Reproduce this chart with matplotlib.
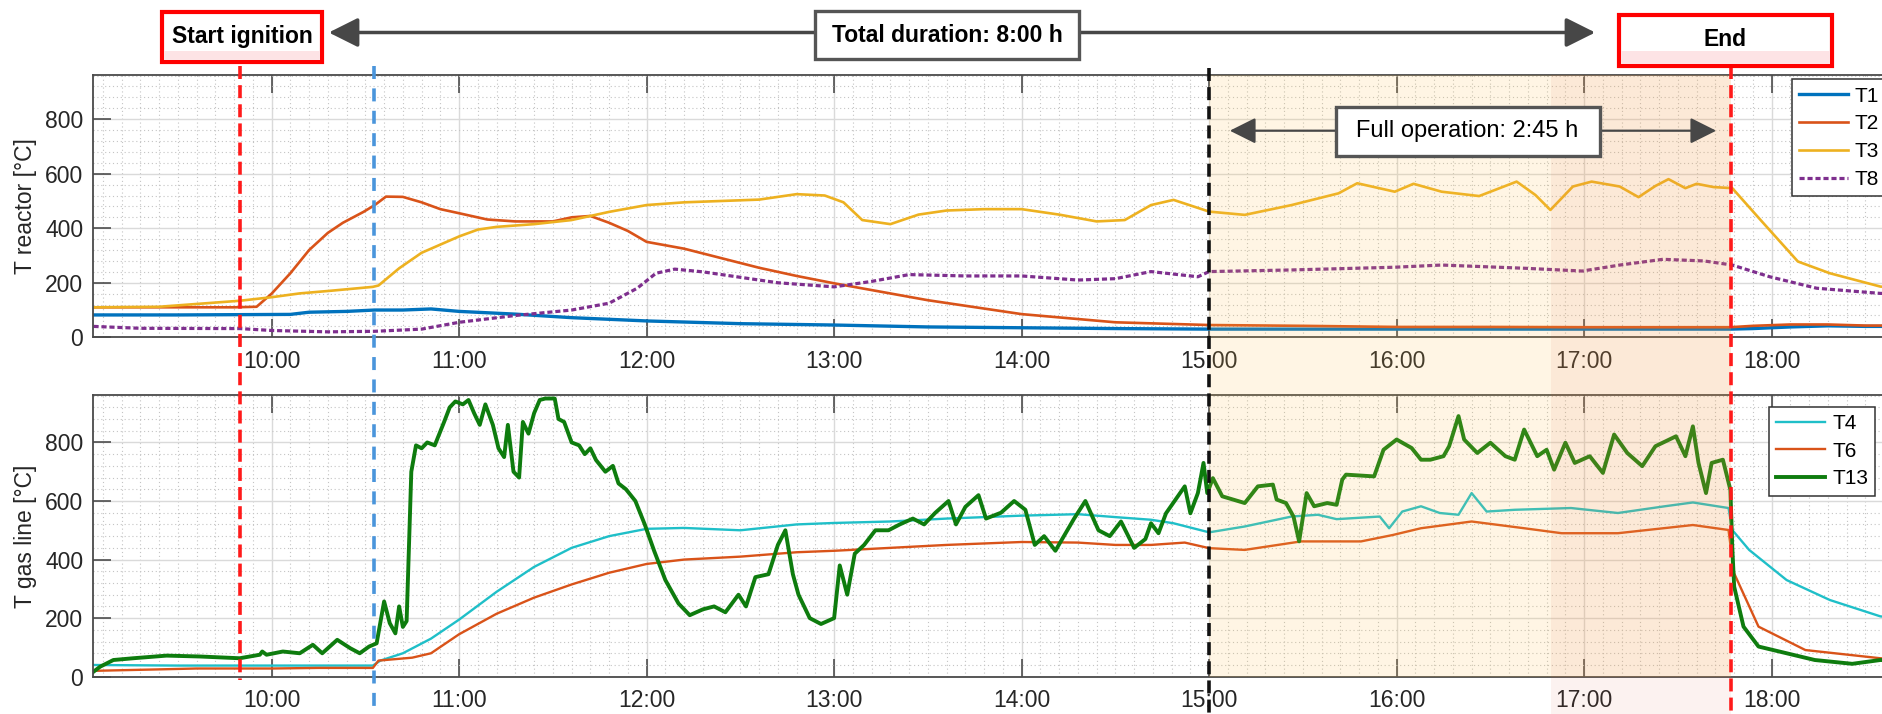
import matplotlib
matplotlib.use("Agg")
import matplotlib.pyplot as plt
from matplotlib.patches import Rectangle, FancyArrowPatch
from matplotlib.lines import Line2D
from matplotlib.ticker import MultipleLocator, FixedLocator
from matplotlib import transforms as mtrans

plt.rcParams["font.family"] = ["Liberation Sans", "DejaVu Sans"]

# ---- time markers (hours of day) ----
t_ignition = 9.834
t_switch = 10.544
t_full_start = 15.0
t_late_start = 16.825
t_end = 17.785

hour_ticks = [10, 11, 12, 13, 14, 15, 16, 17, 18]
hour_labels = ["10:00", "11:00", "12:00", "13:00", "14:00", "15:00", "16:00", "17:00", "18:00"]
temp_ticks = [0, 200, 400, 600, 800]

# ---- reactor temperatures ----
t_T1 = [9.05, 9.5, 10.1, 10.2, 10.4, 10.55, 10.7, 10.85, 11.0, 11.3, 11.6, 12.0, 12.5, 13.0,
        13.5, 14.0, 14.5, 15.0, 16.0, 17.0, 17.78, 17.9, 18.1, 18.3, 18.5, 18.69]
T1 = [82, 82, 84, 92, 95, 100, 100, 104, 95, 85, 72, 60, 50, 45, 38, 35, 32, 30, 30, 30, 30,
      32, 38, 42, 40, 40]

t_T2 = [9.05, 9.8, 9.92, 10.0, 10.1, 10.2, 10.3, 10.38, 10.49, 10.55, 10.61, 10.7, 10.8, 10.9,
        11.0, 11.15, 11.3, 11.5, 11.6, 11.7, 11.8, 11.9, 12.0, 12.2, 12.4, 12.6, 12.8, 13.0,
        13.5, 14.0, 14.5, 15.0, 15.5, 16.0, 16.5, 17.0, 17.5, 17.78, 17.9, 18.1, 18.3, 18.5, 18.69]
T2 = [110, 110, 112, 160, 235, 320, 383, 420, 460, 485, 516, 515, 495, 470, 455, 432, 425, 425,
      440, 445, 420, 390, 350, 325, 290, 255, 225, 198, 136, 85, 55, 45, 42, 38, 38, 37, 37, 37,
      42, 47, 47, 43, 43]

t_T3 = [9.05, 9.4, 9.83, 10.0, 10.15, 10.32, 10.54, 10.57, 10.68, 10.8, 10.9, 11.0, 11.1, 11.2,
        11.4, 11.6, 11.8, 12.0, 12.2, 12.4, 12.6, 12.8, 12.95, 13.05, 13.15, 13.3, 13.45, 13.6,
        13.8, 14.0, 14.2, 14.4, 14.55, 14.69, 14.81, 15.0, 15.19, 15.44, 15.69, 15.79, 15.99,
        16.09, 16.24, 16.44, 16.64, 16.74, 16.82, 16.94, 17.04, 17.19, 17.29, 17.38, 17.45,
        17.54, 17.6, 17.69, 17.79, 17.94, 18.14, 18.31, 18.58, 18.69]
T3 = [110, 112, 134, 147, 161, 171, 185, 190, 253, 310, 340, 370, 395, 405, 415, 430, 460, 485,
      495, 500, 505, 525, 520, 495, 430, 415, 450, 465, 470, 470, 450, 425, 430, 485, 504, 461,
      449, 485, 528, 565, 534, 563, 534, 518, 571, 522, 467, 553, 571, 553, 514, 555, 580, 547,
      563, 551, 547, 431, 278, 235, 186, 180]

t_T8 = [9.05, 9.3, 9.83, 10.0, 10.3, 10.55, 10.8, 11.0, 11.3, 11.6, 11.8, 11.95, 12.05, 12.15,
        12.3, 12.5, 12.7, 13.0, 13.2, 13.4, 13.7, 14.0, 14.3, 14.5, 14.69, 14.94, 15.0, 15.44,
        15.99, 16.24, 16.69, 16.99, 17.19, 17.42, 17.64, 17.79, 17.99, 18.24, 18.58, 18.69]
T8 = [40, 33, 32, 25, 20, 22, 30, 55, 80, 100, 125, 180, 235, 250, 240, 220, 200, 185, 205, 230,
      225, 225, 210, 215, 241, 222, 241, 247, 257, 265, 253, 243, 265, 286, 280, 265, 222, 180,
      161, 160]

# ---- gas line temperatures ----
t_T4 = [9.05, 9.5, 10.0, 10.54, 10.58, 10.7, 10.85, 11.0, 11.2, 11.4, 11.6, 11.8, 12.0, 12.2,
        12.5, 12.8, 13.0, 13.3, 13.6, 14.0, 14.3, 14.5, 14.69, 14.81, 15.0, 15.19, 15.44, 15.58,
        15.68, 15.91, 15.96, 16.03, 16.13, 16.23, 16.33, 16.4, 16.48, 16.63, 16.93, 17.18,
        17.43, 17.58, 17.77, 17.79, 17.88, 18.08, 18.31, 18.58, 18.69]
T4 = [40, 38, 38, 38, 55, 80, 130, 195, 290, 375, 440, 480, 505, 508, 500, 520, 525, 530, 540,
      550, 555, 545, 536, 524, 493, 513, 547, 553, 538, 547, 507, 564, 582, 559, 553, 627, 564,
      570, 576, 559, 582, 595, 576, 501, 433, 330, 262, 206, 200]

t_T6 = [9.05, 9.4, 9.6, 10.0, 10.25, 10.54, 10.57, 10.75, 10.85, 11.0, 11.2, 11.4, 11.6, 11.8,
        12.0, 12.2, 12.5, 12.8, 13.0, 13.3, 13.6, 14.0, 14.3, 14.5, 14.69, 14.87, 15.0, 15.19,
        15.49, 15.81, 15.98, 16.13, 16.4, 16.68, 16.88, 17.18, 17.58, 17.77, 17.8, 17.93,
        18.18, 18.58, 18.69]
T6 = [20, 25, 28, 28, 30, 30, 55, 65, 80, 145, 215, 270, 315, 355, 385, 400, 410, 425, 430, 440,
      450, 460, 458, 450, 450, 458, 439, 433, 462, 462, 484, 507, 530, 507, 490, 490, 518, 501,
      353, 171, 91, 63, 60]

t_T13 = [9.05, 9.085, 9.156, 9.262, 9.44, 9.617, 9.83, 9.937, 9.95, 9.973, 10.06, 10.15, 10.22,
         10.27, 10.35, 10.42, 10.47, 10.52, 10.56, 10.6, 10.63, 10.66, 10.68, 10.7, 10.72,
         10.745, 10.77, 10.8, 10.83, 10.87, 10.92, 10.95, 10.98, 11.02, 11.05, 11.08, 11.11,
         11.14, 11.18, 11.21, 11.24, 11.26, 11.29, 11.32, 11.34, 11.37, 11.4, 11.43, 11.46,
         11.51, 11.53, 11.56, 11.6, 11.64, 11.67, 11.7, 11.73, 11.78, 11.82, 11.85, 11.89,
         11.94, 11.99, 12.04,
         12.1, 12.17, 12.23, 12.3, 12.36, 12.42, 12.49, 12.53, 12.58, 12.65, 12.7, 12.74,
         12.78, 12.81, 12.87, 12.93, 13.0, 13.03, 13.07, 13.11, 13.16, 13.22, 13.29, 13.35,
         13.42, 13.48, 13.54, 13.61, 13.65, 13.7, 13.77, 13.81, 13.89, 13.96, 14.02, 14.07,
         14.12, 14.18, 14.28, 14.34, 14.41, 14.47, 14.53, 14.6, 14.66, 14.69, 14.73, 14.77,
         14.87, 14.9, 14.94, 14.97, 14.99, 15.02, 15.07, 15.19, 15.26, 15.34, 15.36, 15.41,
         15.45, 15.48, 15.52, 15.56, 15.63, 15.68, 15.71, 15.73, 15.88, 15.93, 16.0, 16.08,
         16.13, 16.18, 16.25, 16.28, 16.33, 16.36, 16.43, 16.5, 16.58, 16.63, 16.68, 16.75,
         16.8, 16.84, 16.9, 16.95, 17.03, 17.1, 17.16, 17.23, 17.31, 17.38, 17.49, 17.54,
         17.58, 17.61, 17.65, 17.68, 17.74, 17.78, 17.79, 17.8, 17.85, 17.93, 18.08, 18.23,
         18.43, 18.58, 18.69]
T13 = [17, 34, 57, 63, 72, 69, 63, 75, 86, 75, 86, 80, 109, 80, 126, 97, 80, 103, 114, 257, 183,
       148, 240, 170, 190,
       700, 790, 780, 800, 790, 870, 920, 940, 930, 945, 900, 860, 930, 860, 780, 750, 860,
       700, 680, 870, 830, 900, 945, 950, 950, 880, 870, 800, 790, 760, 780, 740, 700, 720,
       660, 640, 600, 520, 430,
       330, 250, 210, 230, 240, 220, 280, 240, 340, 350, 450, 500, 350, 280, 200, 180, 200, 380,
       280, 420, 450, 500, 500, 520, 540, 520, 560, 600, 520, 580, 620, 540, 560, 600, 570, 450,
       480, 430, 540, 600, 500, 480, 530, 440, 470, 524, 490, 558, 650, 558, 627, 730, 627, 678,
       616, 593, 650, 656, 605, 593, 547, 462, 627, 582, 593, 587, 673, 690, 684, 775, 810, 781,
       741, 741, 753, 787, 890, 810, 764, 799, 753, 741, 844, 753, 775, 707, 799, 730, 753, 696,
       827, 764, 719, 787, 821, 753, 855, 730, 627, 730, 741, 638, 444, 308, 171, 103, 80, 57,
       44, 57, 55]

W, H = 1883, 714
fig = plt.figure(figsize=(W / 100, H / 100), dpi=100)


def fx(px):
    return px / W


def fy(py):
    return 1 - py / H


x_left, x_right = 9.0474, 18.6846
ax1 = fig.add_axes([fx(93), fy(337.3), fx(1900 - 93), (337.3 - 75) / H])
ax2 = fig.add_axes([fx(93), fy(676.7), fx(1900 - 93), (676.7 - 395) / H])

ax1.plot(t_T1, T1, color="#0072BD", lw=2.4, label="T1")
ax1.plot(t_T2, T2, color="#D95319", lw=1.9, label="T2")
ax1.plot(t_T3, T3, color="#EDB120", lw=1.9, label="T3")
ax1.plot(t_T8, T8, color="#7E2F8E", lw=2.3, ls=(0, (1.6, 0.9)), label="T8")

ax2.plot(t_T4, T4, color="#1FBFC8", lw=1.7, label="T4")
ax2.plot(t_T6, T6, color="#D95319", lw=1.7, label="T6")
ax2.plot(t_T13, T13, color="#0E7C0E", lw=2.8, label="T13")

for ax, ylab in ((ax1, "T reactor [°C]"), (ax2, "T gas line [°C]")):
    ax.set_xlim(x_left, x_right)
    ax.set_ylim(0, 962)
    ax.xaxis.set_major_locator(FixedLocator(hour_ticks))
    ax.set_xticklabels(hour_labels)
    ax.set_yticks(temp_ticks)
    ax.xaxis.set_minor_locator(MultipleLocator(0.1))
    ax.yaxis.set_minor_locator(MultipleLocator(40))
    ax.grid(which="major", color="#DADADA", lw=1.0, ls="-")
    ax.grid(which="minor", color="#C4C4C4", lw=0.8, ls=(0, (1, 2.5)))
    ax.set_axisbelow(True)
    ax.tick_params(which="major", direction="in", length=13, width=1.1, top=True, right=True,
                   colors="#404040", labelcolor="#262626", labelsize=16.5)
    ax.tick_params(axis="x", pad=9)
    ax.tick_params(axis="y", pad=7)
    ax.tick_params(which="minor", length=0)
    for sp in ax.spines.values():
        sp.set_color("#4A4A4A")
        sp.set_linewidth(1.3)
    ax.set_ylabel(ylab, fontsize=16.5, color="#262626")
    ax.yaxis.set_label_coords(-0.031, 0.5)

leg_kw = dict(loc="upper left", bbox_transform=fig.transFigure, fontsize=15, handlelength=2.35,
              handletextpad=0.33, labelspacing=0.42, borderpad=0.35, borderaxespad=0,
              fancybox=False, framealpha=1, edgecolor="#333333")
l1 = ax1.legend(bbox_to_anchor=(fx(1791.7), fy(79.3)), **leg_kw)
l2 = ax2.legend(bbox_to_anchor=(fx(1769), fy(406.7)), **leg_kw)
for lg in (l1, l2):
    lg.get_frame().set_linewidth(1.1)

# translucent highlight of the operating window
bt = mtrans.blended_transform_factory(ax1.transData, fig.transFigure)
fig.add_artist(Rectangle((t_full_start, fy(676.7)), t_end - t_full_start, (676.7 - 75) / H,
                         transform=bt, facecolor="#FFC04A", alpha=0.15, lw=0, zorder=2))
fig.add_artist(Rectangle((t_late_start, 0), t_end - t_late_start, fy(75),
                         transform=bt, facecolor="#E0583C", alpha=0.075, lw=0, zorder=2))

# event markers
def vmark(t, color, top_px, bottom_px, dashes):
    fig.add_artist(Line2D([t, t], [fy(top_px), fy(bottom_px)], transform=bt, color=color,
                          lw=2.6, dashes=dashes, zorder=3))


vmark(t_ignition, "#FF1A1A", 66, 680, (3.6, 1.7))
vmark(t_switch, "#4A95DB", 66, 714, (3.6, 2.6))
vmark(t_full_start, "#111111", 68, 714, (3.6, 1.7))
vmark(t_end, "#FF1A1A", 66, 714, (3.6, 1.7))


def box(x0, y0, x1, y1, edge, lw, pink=None):
    fig.add_artist(Rectangle((fx(x0), fy(y1)), fx(x1 - x0), (y1 - y0) / H, transform=fig.transFigure,
                             facecolor="white", edgecolor=edge, lw=lw, zorder=5))
    if pink is not None:
        fig.add_artist(Rectangle((fx(x0 + 2), fy(y1 - 2)), fx(x1 - x0 - 4), (y1 - 2 - pink) / H,
                                 transform=fig.transFigure, facecolor="#FDE3E5", lw=0, zorder=5))


# total duration arrow and labels
fig.add_artist(FancyArrowPatch((fx(326), fy(32.5)), (fx(1598), fy(32.5)), transform=fig.transFigure,
                               arrowstyle="<|-|>,head_length=0.9,head_width=0.45", mutation_scale=20,
                               color="#474747", lw=2.5, zorder=4))
box(161.6, 11.7, 322.3, 62.3, "#FF0000", 3.0, pink=50.7)
fig.text(fx(242), fy(37), "Start ignition", weight="bold", fontsize=16.5,
         ha="center", va="center", zorder=6)
box(814.7, 11, 1079.5, 59, "#555555", 2.4)
fig.text(fx(947), fy(35), "Total duration: 8:00 h", weight="bold", fontsize=16.5,
         ha="center", va="center", zorder=6)
box(1619, 15, 1831.6, 66, "#FF0000", 3.0, pink=51)
fig.text(fx(1725), fy(40), "End", weight="bold", fontsize=16.5,
         ha="center", va="center", zorder=6)

# full operation arrow and label
fig.add_artist(FancyArrowPatch((fx(1227), fy(130.7)), (fx(1719), fy(130.7)), transform=fig.transFigure,
                               arrowstyle="<|-|>,head_length=0.8,head_width=0.4", mutation_scale=20,
                               color="#474747", lw=1.6, zorder=4))
box(1335.6, 107.3, 1599.7, 156, "#555555", 2.4)
fig.text(fx(1467.6), fy(131.5), "Full operation: 2:45 h", fontsize=17,
         ha="center", va="center", zorder=6)

fig.savefig("out.png", dpi=100)
